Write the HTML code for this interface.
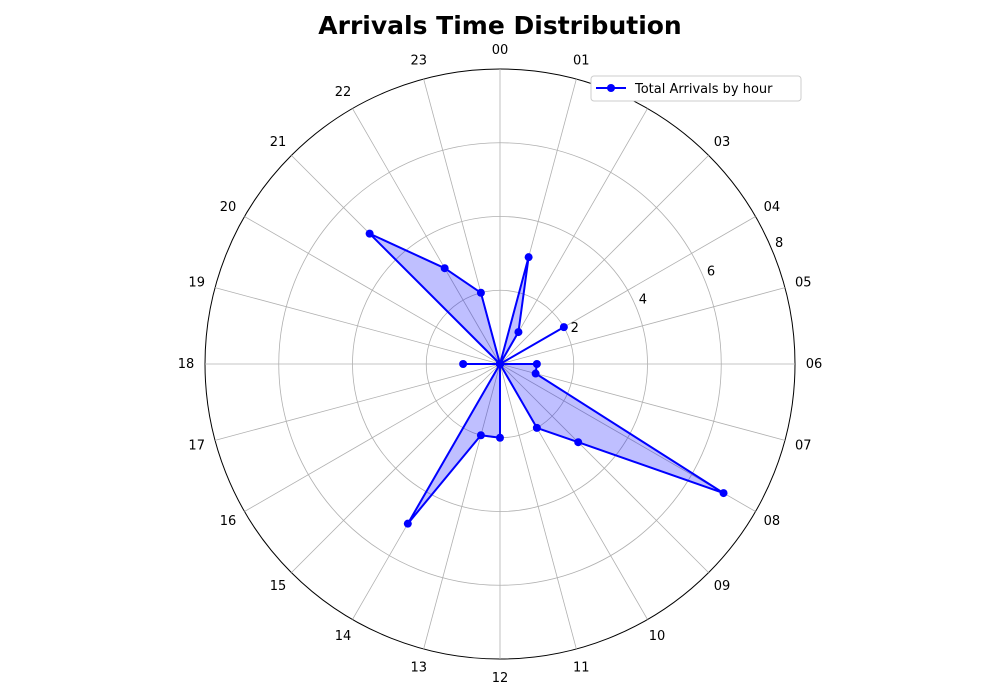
<!DOCTYPE html>
<html><head><meta charset="utf-8"><style>
body{margin:0;background:#fff;}
svg{display:block;font-family:"DejaVu Sans","Liberation Sans",sans-serif;}
</style></head><body>
<svg id="chart" width="1000" height="700">
<text x="500" y="34" text-anchor="middle" font-size="25" font-weight="bold">Arrivals Time Distribution</text>
<g id="grid"></g><g id="series"></g>
<g>
<rect x="591" y="76" width="210" height="25" rx="3" fill="#fff" stroke="#ccc"/>
<line x1="596" y1="88" x2="626" y2="88" stroke="#0000ff" stroke-width="2"/>
<circle cx="611" cy="88" r="4" fill="#0000ff"/>
<text x="635" y="93" font-size="13">Total Arrivals by hour</text>
</g>
</svg>
<script>
const hours = ["00","01","02","03","04","05","06","07","08","09","10","11","12","13","14","15","16","17","18","19","20","21","22","23"];
const arrivals = [0,3,1,0,2,0,1,1,7,3,2,0,2,2,5,0,0,0,1,0,0,5,3,2];
const radialTicks = [2,4,6,8];
const rMax = 8;
const cx=500, cy=364, R=295;
const NS="http://www.w3.org/2000/svg";
function rScale(v){return v/rMax*R;}
function pt(i,v){const a=i/hours.length*2*Math.PI;const r=rScale(v);return [cx+r*Math.sin(a),cy-r*Math.cos(a)];}
function mk(tag,attrs,parent){const e=document.createElementNS(NS,tag);for(const k in attrs)e.setAttribute(k,attrs[k]);parent.appendChild(e);return e;}
const grid=document.getElementById('grid');
radialTicks.forEach(t=>{
  const c=mk('circle',{cx:cx,cy:cy,r:rScale(t),fill:'none',stroke:t===rMax?'#000':'#b0b0b0','stroke-width':t===rMax?1:0.8},grid);
  
  
});
hours.forEach((h,i)=>{
  const [x,y]=pt(i,rMax);
  const l=mk('line',{x1:cx,y1:cy,x2:x,y2:y,stroke:'#b0b0b0','stroke-width':0.8},grid);
  
  
  const [tx,ty]=pt(i,rMax*314/295);
  const t=mk('text',{x:tx,y:ty+4,'text-anchor':'middle','font-size':13},grid);
  t.textContent=h;
  
  
});
radialTicks.forEach(t=>{
  const a=67.5*Math.PI/180, r=rScale(t)+5;
  const tt=mk('text',{x:cx+r*Math.sin(a)+2,y:cy-r*Math.cos(a)-2,'text-anchor':'middle','font-size':13},grid);
  tt.textContent=t;
  
  
});
const s=document.getElementById('series');
const pts=arrivals.map((v,i)=>pt(i,v));
const d='M'+pts.map(p=>p[0].toFixed(1)+','+p[1].toFixed(1)).join('L')+'Z';
const area=mk('path',{d:d,fill:'rgba(0,0,255,0.25)',stroke:'none'},s);


const line=mk('path',{d:d,fill:'none',stroke:'#0000ff','stroke-width':2,'stroke-linejoin':'round'},s);


pts.forEach((p,i)=>{
  const c=mk('circle',{cx:p[0],cy:p[1],r:4,fill:'#0000ff'},s);
  
  
});
</script>
</body></html>
